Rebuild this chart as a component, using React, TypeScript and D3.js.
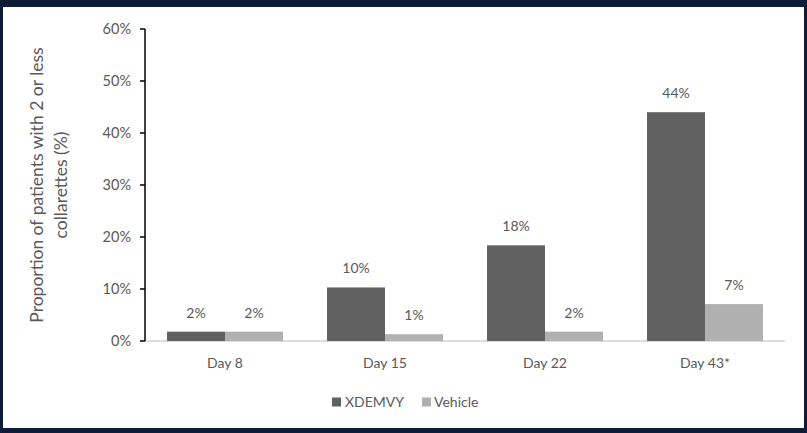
import React from "react";
import * as d3 from "d3";

const categories = ["Day 8", "Day 15", "Day 22", "Day 43*"];
const seriesNames = ["XDEMVY", "Vehicle"];
const xdemvy = [1.8, 10.3, 18.4, 44];
const vehicle = [1.8, 1.3, 1.8, 7.1];
const xdemvyLabels = ["2%", "10%", "18%", "44%"];
const vehicleLabels = ["2%", "1%", "2%", "7%"];
const yTicks = [0, 10, 20, 30, 40, 50, 60];
const colors = ["#616161", "#b0b0b0"];

export default function App() {
  const W = 807, H = 433;
  const left = 145, right = 785, top = 29, bottom = 341;
  const x = d3.scaleBand<string>().domain(categories).range([left, right]).paddingInner(0.275).paddingOuter(0.1375);
  const xs = d3.scaleBand<string>().domain(seriesNames).range([0, x.bandwidth()]);
  const y = d3.scaleLinear().domain([0, 60]).range([bottom, top]);
  const font = "Lato, 'Open Sans', sans-serif";
  const txt = "#595959";
  const series = [
    { name: seriesNames[0], values: xdemvy, labels: xdemvyLabels, color: colors[0] },
    { name: seriesNames[1], values: vehicle, labels: vehicleLabels, color: colors[1] },
  ];
  return (
    <div style={{ position: "absolute", left: 0, top: 0, width: W, height: H, background: "#0e1c38" }}>
      <svg width={W} height={H} style={{ display: "block" }} fontFamily={font}>
        <rect x={3} y={7} width={801} height={421} fill="#ffffff" />
        <line x1={left} x2={right} y1={bottom} y2={bottom} stroke="#d0d0d0" strokeWidth={1.5} />
        {series.map((s) =>
          categories.map((c, i) => (
            <g key={s.name + c}>
              <rect x={x(c)! + xs(s.name)!} width={xs.bandwidth()} y={y(s.values[i])} height={bottom - y(s.values[i])} fill={s.color} />
              <text x={x(c)! + xs(s.name)! + xs.bandwidth() / 2} y={y(s.values[i]) - 14} textAnchor="middle" fontSize={14} fill={txt}>{s.labels[i]}</text>
            </g>
          ))
        )}
        <line x1={left} x2={left} y1={top} y2={bottom} stroke="#000" strokeWidth={1.5} />
        {yTicks.map((t) => (
          <g key={t}>
            <line x1={left - 5} x2={left} y1={y(t)} y2={y(t)} stroke="#000" strokeWidth={1.5} />
            <text x={left - 14} y={y(t)} dy="0.35em" textAnchor="end" fontSize={14.5} fill={txt}>{t}%</text>
          </g>
        ))}
        {categories.map((c) => (
          <text key={c} x={x(c)! + x.bandwidth() / 2} y={363} dy="0.35em" textAnchor="middle" fontSize={14} fill={txt}>{c}</text>
        ))}
        <g transform={`translate(55,${(top + bottom) / 2}) rotate(-90)`}>
          <text textAnchor="middle" fontSize={17.5} fill={txt} y={-12}>Proportion of patients with 2 or less</text>
          <text textAnchor="middle" fontSize={17.5} fill={txt} y={12}>collarettes (%)</text>
        </g>
        <g transform="translate(332,402)">
          <rect x={0} y={-4.5} width={9} height={9} fill={colors[0]} />
          <text x={13} dy="0.35em" fontSize={14} fill={txt}>{seriesNames[0]}</text>
          <rect x={90} y={-4.5} width={9} height={9} fill={colors[1]} />
          <text x={102} dy="0.35em" fontSize={14} fill={txt}>{seriesNames[1]}</text>
        </g>
      </svg>
    </div>
  );
}
